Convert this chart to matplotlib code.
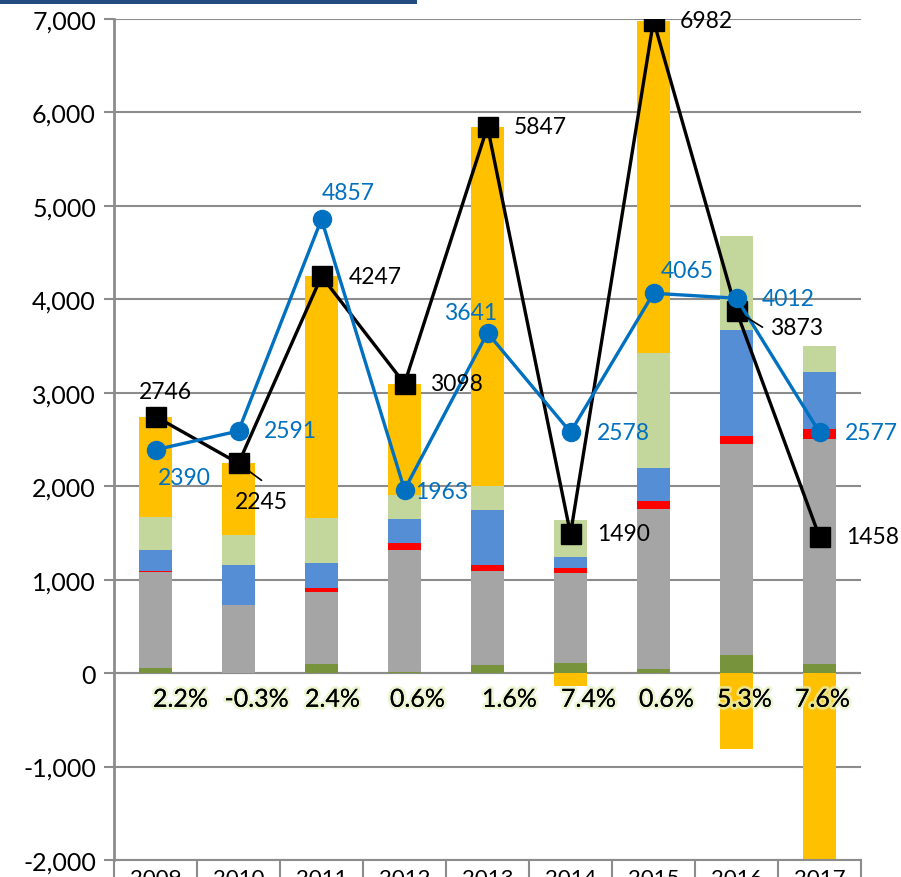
import numpy as np
import matplotlib
matplotlib.use("Agg")
import matplotlib.pyplot as plt
import matplotlib.patheffects as pe
from matplotlib.patches import Rectangle

plt.rcParams['font.family'] = ['Lato', 'DejaVu Sans']

# Data
years = ['2009', '2010', '2011', '2012', '2013', '2014', '2015', '2016', '2017']
olive = [57, 0, 96, 15, 89, 103, 43, 196, 96]
gray = [1030, 728, 774, 1301, 999, 964, 1712, 2258, 2408]
red = [10, 0, 43, 79, 71, 57, 89, 83, 111]
blue = [220, 428, 264, 257, 586, 121, 353, 1138, 603]
lightgreen = [350, 318, 482, 253, 253, 389, 1225, 1006, 285]
yellow = [1079, 771, 2588, 1193, 3849, -136, 3560, -813, -2045]
total = [2746, 2245, 4247, 3098, 5847, 1490, 6982, 3873, 1458]
blue_line = [2390, 2591, 4857, 1963, 3641, 2578, 4065, 4012, 2577]
pct = ['2.2%', '-0.3%', '2.4%', '0.6%', '1.6%', '7.4%', '0.6%', '5.3%', '7.6%']

# label offsets in pixels (layout only)
total_off = [(10, 25), (23, -38), (54, 0), (52, 0), (53, 0), (53, 0), (53, 0), (60, -16), (53, 0)]
blue_off = [(29, -28), (52, 0), (27, 27), (37, -2), (-17, 20), (53, 0), (34, 23), (52, 0), (52, 0)]
pct_dx = [25, 18, 11, 13, 22, 18, 13, 8, 3]

fig = plt.figure(figsize=(9.01, 8.78), dpi=100)
ax = fig.add_axes([114 / 901, 17 / 878, (861 - 114) / 901, (861 - 20) / 878])

x = np.arange(len(years))
w = 0.4
stacks = [(olive, '#77933C'), (gray, '#A5A5A5'), (red, '#FF0000'),
          (blue, '#558ED5'), (lightgreen, '#C3D69B'), (yellow, '#FFC000')]
cum = np.zeros(len(years))
for vals, col in stacks:
    v = np.array(vals, dtype=float)
    bottom = np.where(v >= 0, cum, 0)
    ax.bar(x, v, w, bottom=bottom, color=col, zorder=2, linewidth=0)
    cum = cum + np.where(v >= 0, v, 0)

ax.plot(x, total, color='black', lw=2.4, marker='s', ms=14, zorder=4)
ax.plot(x, blue_line, color='#0070C0', lw=2.4, marker='o', ms=13, zorder=5)

for i in range(len(years)):
    ax.annotate(str(total[i]), (x[i], total[i]), xytext=total_off[i],
                textcoords='offset pixels', ha='center', va='center',
                fontsize=16.5, color='black', zorder=6)
    ax.annotate(str(blue_line[i]), (x[i], blue_line[i]), xytext=blue_off[i],
                textcoords='offset pixels', ha='center', va='center',
                fontsize=16.5, color='#0070C0', zorder=6)
    ax.text(x[i] + pct_dx[i] / 83, -280, pct[i], ha='center', va='center',
            fontsize=18, color='black', zorder=6,
            path_effects=[pe.withStroke(linewidth=4, foreground='#E3F2BE', alpha=0.7),
                          pe.Normal()])

# leader lines
ax.annotate('', xy=(x[1], total[1]), xytext=(23, -17), textcoords='offset pixels',
            arrowprops=dict(arrowstyle='-', color='black', lw=1.2, shrinkA=0, shrinkB=7), zorder=6)
ax.annotate('', xy=(x[7], total[7]), xytext=(26, -16), textcoords='offset pixels',
            arrowprops=dict(arrowstyle='-', color='black', lw=1.2, shrinkA=0, shrinkB=7), zorder=6)

ax.set_xlim(-0.5, len(years) - 0.5)
ax.set_ylim(-2000, 7000)
ax.set_yticks(np.arange(-2000, 7001, 1000))
ax.set_yticklabels([f'{v:,}' for v in range(-2000, 7001, 1000)])
ax.yaxis.grid(True, color='#8C8C8C', lw=1.5)
ax.set_axisbelow(True)
ax.axhline(0, color='#8C8C8C', lw=1.5, zorder=1)

ax.set_xticks(x)
ax.set_xticklabels(years)
ax.set_xticks(np.arange(-0.5, len(years), 1), minor=True)
ax.tick_params(axis='x', which='major', length=0, labelsize=16, pad=6)
ax.tick_params(axis='x', which='minor', length=20, color='#8C8C8C', width=1.5)
ax.tick_params(axis='y', length=7, color='#8C8C8C', width=1.5, labelsize=18, pad=6)

for s in ['top', 'right']:
    ax.spines[s].set_visible(False)
ax.spines['left'].set_color('#8C8C8C')
ax.spines['left'].set_linewidth(2)
ax.spines['bottom'].set_color('#8C8C8C')
ax.spines['bottom'].set_linewidth(1.5)

# header strip at top-left
fig.add_artist(Rectangle((0, 1 - 5 / 878), 417 / 901, 5 / 878, transform=fig.transFigure,
                         color='#244B80', lw=0))

fig.savefig('out.png', dpi=100)
